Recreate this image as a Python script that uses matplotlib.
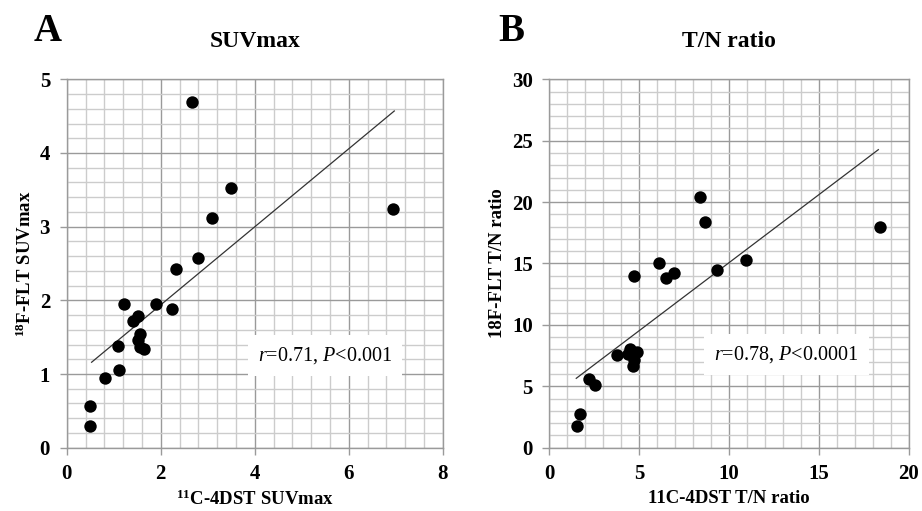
import matplotlib
matplotlib.use("Agg")
import matplotlib.pyplot as plt
from matplotlib.ticker import MultipleLocator

plt.rcParams['font.family'] = ['Liberation Serif', 'DejaVu Serif']
plt.rcParams['mathtext.fontset'] = 'custom'
plt.rcParams['mathtext.rm'] = 'Liberation Serif:bold'
plt.rcParams['mathtext.it'] = 'Liberation Serif:italic'
plt.rcParams['mathtext.bf'] = 'Liberation Serif:bold'

# Panel A: SUVmax
suv_dst = [2.66, 3.50, 3.10, 6.95, 2.80, 2.32, 1.21, 1.89, 2.23, 1.51,
           1.42, 1.56, 1.51, 1.09, 1.56, 1.64, 1.11, 0.82, 0.50, 0.50]
suv_flt = [4.69, 3.53, 3.12, 3.24, 2.57, 2.42, 1.95, 1.95, 1.88, 1.79,
           1.72, 1.54, 1.46, 1.38, 1.37, 1.34, 1.06, 0.95, 0.57, 0.29]
suv_fit_x = [0.53, 6.97]
suv_fit_y = [1.16, 4.57]

# Panel B: T/N ratio
tn_dst = [8.37, 8.66, 18.39, 10.96, 9.35, 6.10, 4.73, 6.51, 6.92, 3.78,
          4.49, 4.86, 4.40, 4.71, 4.66, 2.21, 2.52, 1.71, 1.52]
tn_flt = [20.42, 18.38, 17.95, 15.31, 14.47, 15.07, 13.98, 13.82, 14.25, 7.58,
          8.04, 7.82, 7.63, 7.14, 6.65, 5.62, 5.08, 2.72, 1.79]
tn_fit_x = [1.50, 18.31]
tn_fit_y = [5.65, 24.27]

W, H = 922, 511
fig = plt.figure(figsize=(W / 100, H / 100), dpi=100)

major_c = '#9a9a9a'
minor_c = '#cccccc'


def style(ax, xmax, ymax, xmaj, xmin, ymaj, ymin):
    ax.set_xlim(0, xmax)
    ax.set_ylim(0, ymax)
    ax.xaxis.set_major_locator(MultipleLocator(xmaj))
    ax.xaxis.set_minor_locator(MultipleLocator(xmin))
    ax.yaxis.set_major_locator(MultipleLocator(ymaj))
    ax.yaxis.set_minor_locator(MultipleLocator(ymin))
    ax.grid(which='major', color=major_c, linewidth=1.0)
    ax.grid(which='minor', color=minor_c, linewidth=1.0)
    ax.set_axisbelow(True)
    for s in ax.spines.values():
        s.set_color(major_c)
        s.set_linewidth(1.0)
    ax.tick_params(which='major', length=5, width=1, color=major_c, pad=7,
                   labelsize=15)
    ax.tick_params(which='minor', length=0)
    for lab in ax.get_xticklabels() + ax.get_yticklabels():
        lab.set_fontweight('bold')


axA = fig.add_axes([66.7 / W, 1 - 447.7 / H, (442.7 - 66.7) / W, (447.7 - 79.3) / H])
style(axA, 8, 5, 2, 0.4, 1, 0.2)
axA.scatter(suv_dst, suv_flt, s=80, color='black', zorder=3, linewidths=0)
axA.plot(suv_fit_x, suv_fit_y, color='#333333', linewidth=0.9, zorder=2)
axA.text(5.5, 1.25, r'$r$=0.71, $P$<0.001', fontsize=14.5, ha='center', va='center',
         zorder=4, bbox=dict(boxstyle='square,pad=0.5', fc='white', ec='none'))
axA.set_title('SUVmax', fontsize=17, fontweight='bold', pad=23)
axA.set_xlabel(r'$^{11}$C-4DST SUVmax', fontsize=13.5, fontweight='bold', labelpad=4)
axA.set_ylabel(r'$^{18}$F-FLT SUVmax', fontsize=13.5, fontweight='bold', labelpad=3)

axB = fig.add_axes([549.3 / W, 1 - 447.7 / H, (908.7 - 549.3) / W, (447.7 - 79.3) / H])
style(axB, 20, 30, 5, 1, 5, 1)
axB.scatter(tn_dst, tn_flt, s=80, color='black', zorder=3, linewidths=0)
axB.plot(tn_fit_x, tn_fit_y, color='#333333', linewidth=0.9, zorder=2)
axB.text(13.2, 7.6, r'$r$=0.78, $P$<0.0001', fontsize=14.5, ha='center', va='center',
         zorder=4, bbox=dict(boxstyle='square,pad=0.5', fc='white', ec='none'))
axB.set_title('T/N ratio', fontsize=17, fontweight='bold', pad=23)
axB.set_xlabel('11C-4DST T/N ratio', fontsize=13.5, fontweight='bold', labelpad=4)
axB.set_ylabel('18F-FLT T/N ratio', fontsize=13.5, fontweight='bold', labelpad=4)

fig.text(34 / W, 1 - 31 / H, 'A', fontsize=28, fontweight='bold', va='center', ha='left')
fig.text(498 / W, 1 - 31 / H, 'B', fontsize=28, fontweight='bold', va='center', ha='left')

fig.savefig('out.png', dpi=100, facecolor='white')
